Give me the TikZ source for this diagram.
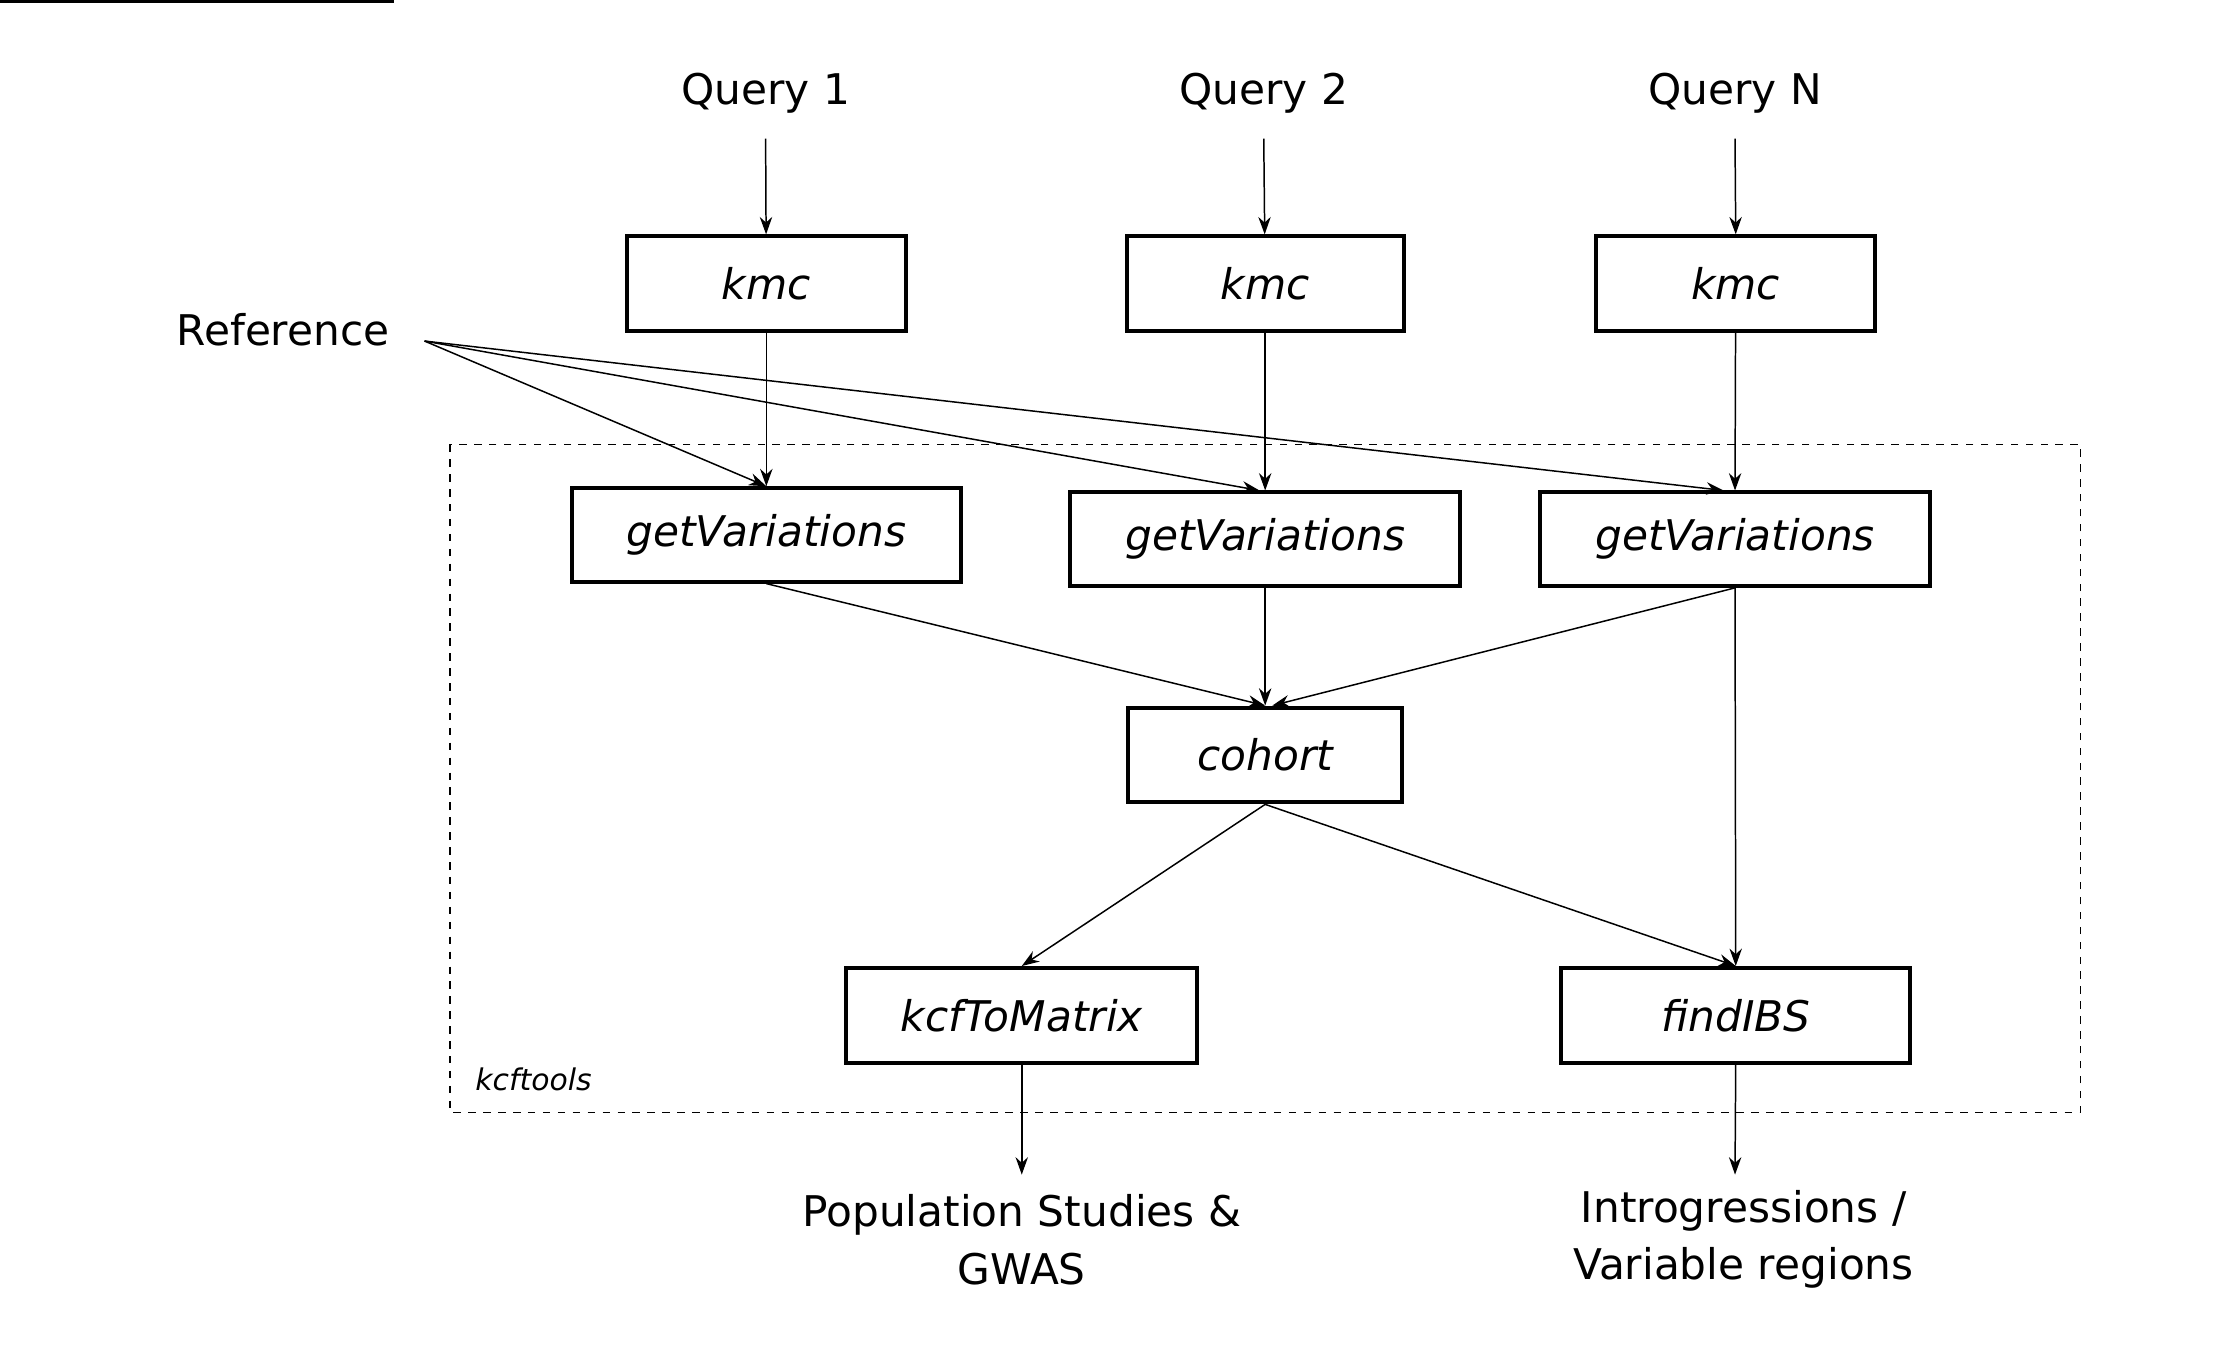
\documentclass[tikz,border=0pt]{standalone}
\usepackage{fontspec}
\setmainfont{DejaVu Sans}
\usetikzlibrary{arrows.meta}
\begin{document}
\begin{tikzpicture}[x=0.02cm,y=-0.02cm,
  box/.style={draw,line width=1.6pt,inner sep=0pt,font=\fontsize{17}{20}\selectfont\itshape},
  lab/.style={font=\fontsize{17}{23}\selectfont,align=center},
  arr/.style={-{Stealth[length=7pt,width=5pt]},line width=0.6pt}]
\useasboundingbox (0,0) rectangle (1568,955);
\draw[dashed,line width=0.6pt] (318,314) rectangle (1470,786);
\node[font=\fontsize{12}{14}\selectfont\itshape] (kt) at (377,763) {kcftools};
\node[lab] (q1) at (541,66) {Query 1};
\node[lab] (q2) at (893,66) {Query 2};
\node[lab] (qn) at (1226,66) {Query N};
\node[lab] (ref) at (200,233) {Reference};
\coordinate (r) at (300,241);
\node[box,minimum width=197\pgflinewidth] at (0,0) {};
\node[box,minimum width=3.94cm,minimum height=1.34cm] (k1) at (541.5,200.5) {kmc};
\node[box,minimum width=3.92cm,minimum height=1.34cm] (k2) at (894,200.5) {kmc};
\node[box,minimum width=3.94cm,minimum height=1.34cm] (k3) at (1226.5,200.5) {kmc};
\node[box,minimum width=5.5cm,minimum height=1.32cm] (g1) at (541.5,378) {getVariations};
\node[box,minimum width=5.52cm,minimum height=1.32cm] (g2) at (894,381) {getVariations};
\node[box,minimum width=5.52cm,minimum height=1.32cm] (g3) at (1226,381) {getVariations};
\node[box,minimum width=3.88cm,minimum height=1.34cm] (co) at (894,533.5) {cohort};
\node[box,minimum width=4.96cm,minimum height=1.34cm] (km) at (722,717.5) {kcfToMatrix};
\node[box,minimum width=4.94cm,minimum height=1.34cm] (fi) at (1226.5,717.5) {findIBS};
\node[lab] (o1) at (722,876) {Population Studies \&\\GWAS};
\node[lab] (o2) at (1232,876) {Introgressions /\\Variable regions};
\coordinate (o1t) at (722,830);
\coordinate (o2t) at (1226,830);
\coordinate (q1b) at (541,98);
\coordinate (q2b) at (893,98);
\coordinate (qnb) at (1226,98);
\draw[arr] (q1b) -- (k1);
\draw[arr] (q2b) -- (k2);
\draw[arr] (qnb) -- (k3.north);
\draw[arr] (k1) -- (g1.north);
\draw[arr] (k2) -- (g2.north);
\draw[arr] (k3) -- (g3.north);
\draw[arr] (r) -- (g1.north);
\draw[arr] (r) -- (g2.north -| 890,0);
\draw[arr] (r) -- ([xshift=-0.16cm]g3.north);
\draw[arr] (g1.south) -- (co.north);
\draw[arr] (g2.south) -- (co.north);
\draw[arr] (g3.south) -- ([xshift=0.1cm]co.north);
\draw[arr] (g3.south) -- (fi.north);
\draw[arr] (co.south) -- (km.north);
\draw[arr] (co.south) -- (fi.north);
\draw[arr] (km.south) -- (o1t);
\draw[arr] (fi.south) -- (o2t);
\end{tikzpicture}
\end{document}
